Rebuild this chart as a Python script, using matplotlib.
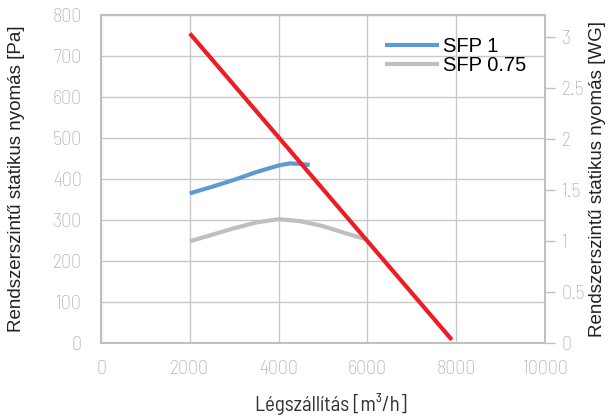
import matplotlib
matplotlib.use("Agg")
import matplotlib.pyplot as plt
from matplotlib import font_manager as fm

# Data
red_x = [2000, 7900]
red_y = [755, 8]
sfp1_x = [2000, 2500, 3000, 3500, 4000, 4250, 4500, 4700]
sfp1_y = [365, 381, 398, 417, 433, 438, 437, 434]
sfp075_x = [2000, 2500, 3000, 3500, 4000, 4500, 5000, 5500, 6000]
sfp075_y = [248, 264, 280, 294, 302, 297, 285, 268, 252]
x_ticks = [0, 2000, 4000, 6000, 8000, 10000]
y_ticks = [0, 100, 200, 300, 400, 500, 600, 700, 800]
wg_ticks = [0, 0.5, 1, 1.5, 2, 2.5, 3]
wg_labels = ["0", "0.5", "1", "1.5", "2", "2.5", "3"]
PA_PER_WG = 249.09

names = {f.name for f in fm.fontManager.ttflist}
cands = [n for n in ["Barlow Semi Condensed", "Barlow Condensed", "Roboto Condensed"] if n in names]
cfam = cands[0] if cands else "DejaVu Sans"
sfam = ["Liberation Sans", "DejaVu Sans"]

tickfp = fm.FontProperties(family=cfam, weight="light", size=14.5)
xlabfp = fm.FontProperties(family=cfam, weight="normal", size=15)

fig = plt.figure(figsize=(6.08, 4.19), dpi=100)
ax = fig.add_axes([101/608, 1-343/419, 444/608, 328/419])
grid_c = "#c8c8c8"
ax.set_xlim(0, 10000)
ax.set_ylim(0, 800)
ax.set_xticks(x_ticks)
ax.set_yticks(y_ticks)
ax.grid(True, color=grid_c, lw=1)
ax.set_axisbelow(True)
for s in ax.spines.values():
    s.set_color("#c0c0c0")
    s.set_linewidth(1.5)
ax.tick_params(axis="x", length=0, labelcolor="#a6a6a6", pad=12)
ax.tick_params(axis="y", length=0, labelcolor="#a6a6a6", pad=14)
for lab in ax.get_xticklabels() + ax.get_yticklabels():
    lab.set_fontproperties(tickfp)

l1, = ax.plot(sfp1_x, sfp1_y, color="#5b9bd5", lw=3, solid_capstyle="butt", label="SFP 1", zorder=3)
l2, = ax.plot(sfp075_x, sfp075_y, color="#bfbfbf", lw=3, solid_capstyle="butt", label="SFP 0.75", zorder=3)
ax.plot(red_x, red_y, color="#ee1c24", lw=3, solid_capstyle="butt", zorder=4)

ax.legend(handles=[l1, l2], loc="upper right", bbox_to_anchor=(0.99, 0.975), frameon=False,
          prop={"family": sfam, "size": 14.5}, handlelength=2.7, handletextpad=0.2,
          labelspacing=0.0, borderpad=0.2)

ax2 = ax.twinx()
ax2.set_ylim(0, 800 / PA_PER_WG)
ax2.set_yticks(wg_ticks)
ax2.set_yticklabels(wg_labels)
for s in ax2.spines.values():
    s.set_visible(False)
ax2.tick_params(axis="y", length=7, width=1, color="#c0c0c0", labelcolor="#a6a6a6", pad=5)
for lab in ax2.get_yticklabels():
    lab.set_fontproperties(tickfp)

fig.text(331/608, 1-404/419, "Légszállítás [m³/h]", fontproperties=xlabfp, color="#333333",
         ha="center", va="center")
fig.text(17/608, 1-179/419, "Rendszerszintű statikus nyomás [Pa]", rotation=90, family=sfam,
         fontsize=13.5, color="#222222", ha="center", va="center")
fig.text(597/608, 1-179/419, "Rendszerszintű statikus nyomás [WG]", rotation=90, family=sfam,
         fontsize=13.5, color="#222222", ha="center", va="center")

fig.savefig("out.png", dpi=100)
